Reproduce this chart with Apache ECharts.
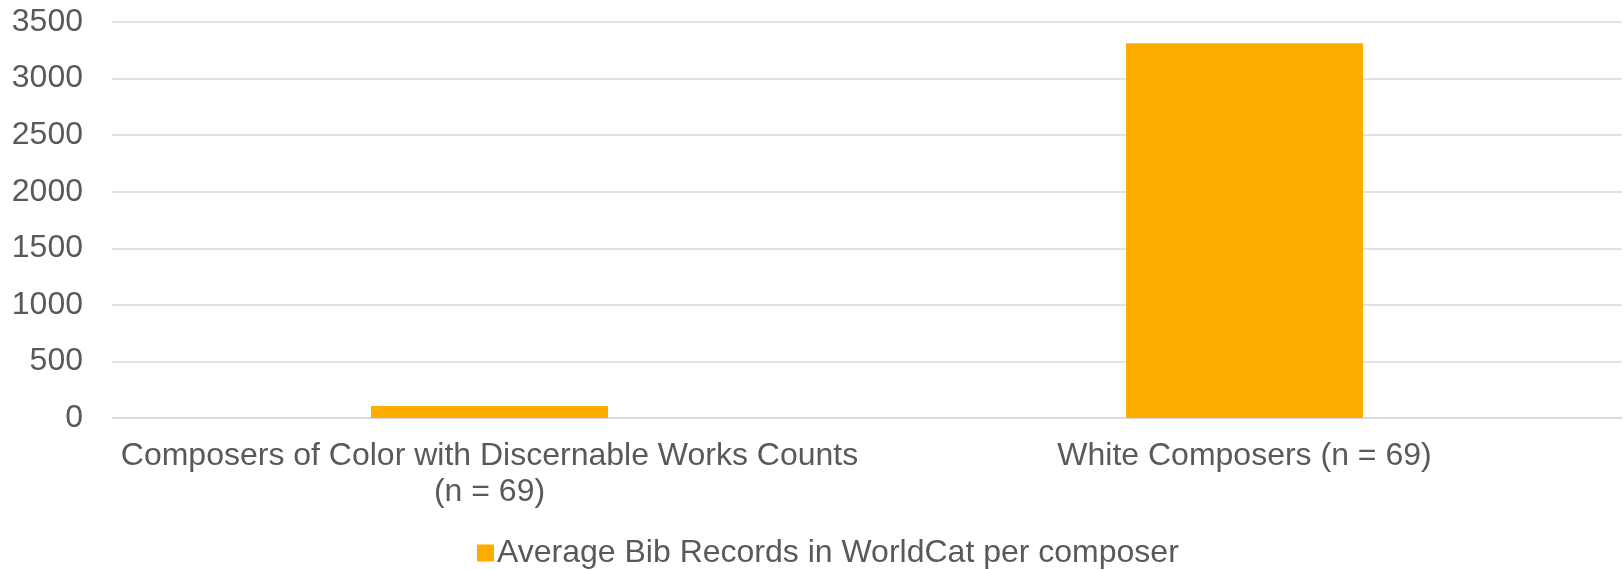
<!DOCTYPE html>
<html>
<head>
<meta charset="utf-8">
<script src="https://cdn.jsdelivr.net/npm/echarts@6/dist/echarts.min.js"></script>
<style>
  html, body { margin: 0; padding: 0; background: #fff; }
  #container { width: 1623px; height: 570px; }
</style>
</head>
<body>
<div id="container"></div>
<script>
// categories and values
var categories = ['Composers of Color with Discernable Works Counts\n(n = 69)', 'White Composers (n = 69)'];
var seriesName = 'Average Bib Records in WorldCat per composer';
var avgRecords = [106, 3313];
var yTicks = { min: 0, max: 3500, interval: 500 };

var textColor = '#595959';
var fontFamily = '"Liberation Sans", Arial, sans-serif';

var myChart = echarts.init(document.getElementById('container'));
var option = {
    animation: false,
    grid: { left: 112, right: 1, top: 22, bottom: 152 },
    legend: {
        data: [seriesName],
        left: 472,
        top: 532,
        itemWidth: 17,
        itemHeight: 17,
        icon: 'rect',
        textStyle: { color: textColor, fontSize: 32, fontFamily: fontFamily, padding: [0, 0, 0, -2] }
    },
    xAxis: {
        type: 'category',
        data: categories,
        axisLine: { lineStyle: { color: '#d9d9d9', width: 1.5 } },
        axisTick: { show: false },
        axisLabel: {
            color: textColor,
            fontSize: 32,
            fontFamily: fontFamily,
            lineHeight: 36,
            margin: 20,
            interval: 0
        }
    },
    yAxis: {
        type: 'value',
        min: yTicks.min,
        max: yTicks.max,
        interval: yTicks.interval,
        axisLine: { show: false },
        axisTick: { show: false },
        splitLine: { lineStyle: { color: '#d9d9d9', width: 1.5 } },
        axisLabel: {
            color: textColor, fontSize: 32, fontFamily: fontFamily, margin: 29,
            formatter: function (v) { return String(v); }
        }
    },
    series: [{
        name: seriesName,
        type: 'bar',
        data: avgRecords,
        barWidth: 237,
        itemStyle: { color: '#FFAC00' }
    }]
};
myChart.setOption(option, true);
</script>
</body>
</html>
